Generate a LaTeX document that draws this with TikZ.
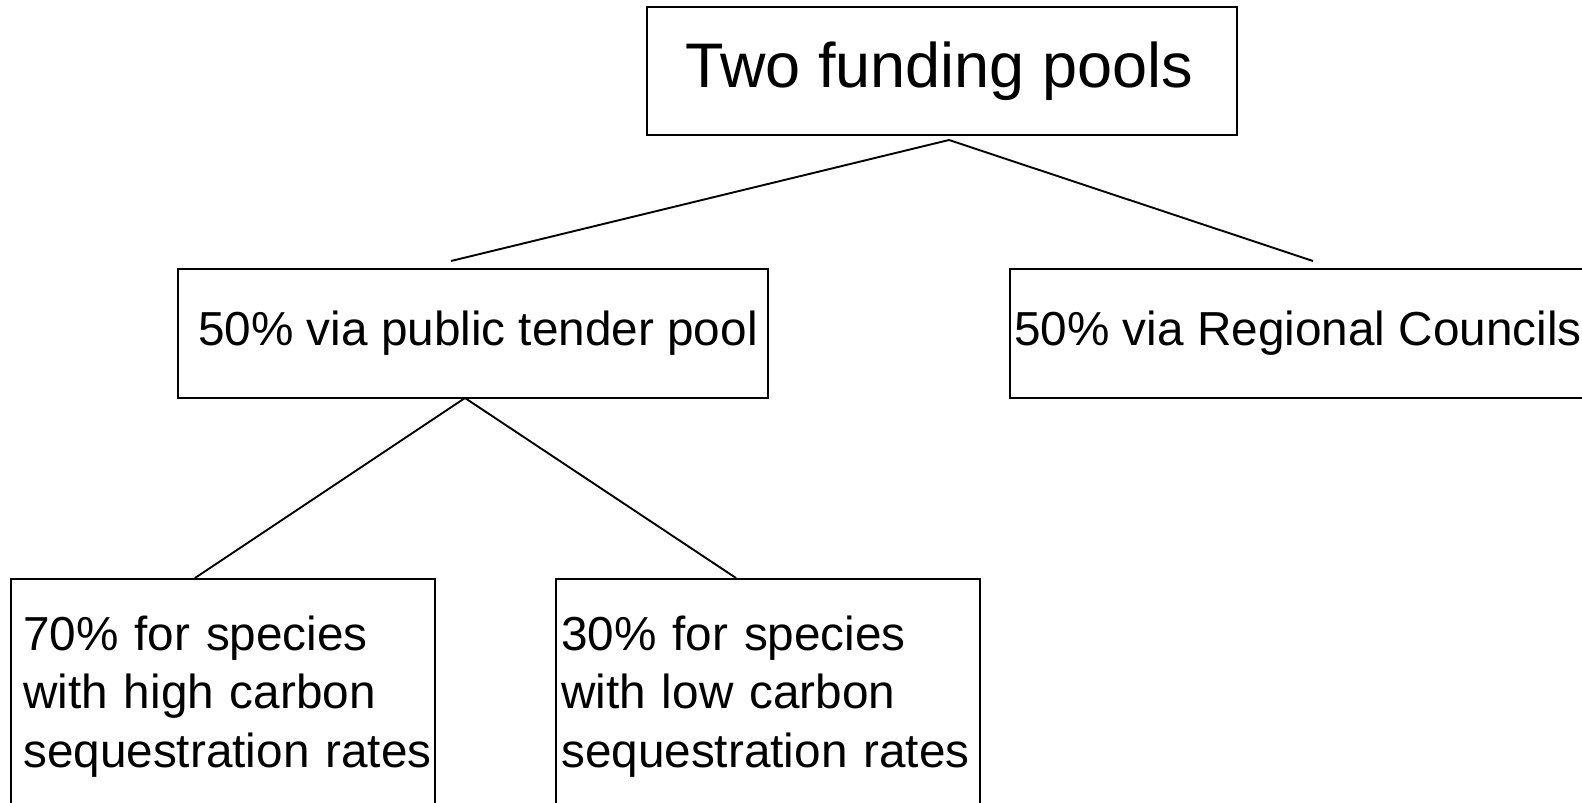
\documentclass[tikz,border=0pt]{standalone}
\usepackage{fontspec}
\setmainfont{Liberation Sans}
\begin{document}
\begin{tikzpicture}[x=1pt,y=-1pt,
  box/.style={draw, line width=2pt, inner sep=0pt, outer sep=0pt, anchor=north west},
  bigtext/.style={font=\fontsize{63}{75}\selectfont},
  midtext/.style={font=\fontsize{47.7}{57.8}\selectfont},
  leaftext/.style={anchor=base west, text width=420pt, align=left, inner sep=0pt, font=\fontsize{47.7}{58.5}\selectfont},
  link/.style={line width=1.9pt}]
\useasboundingbox (0,0) rectangle (1582,803);
\clip (0,0) rectangle (1582,803);
\fill[white] (0,0) rectangle (1582,803);
% boxes
\node[box, bigtext, minimum width=590pt, minimum height=128pt] (top) at (647,7) {\hspace*{-6pt}Two funding pools};
\node[box, midtext, minimum width=590pt, minimum height=129pt] (tender) at (178,269) {\hspace*{10pt}50\% via public tender pool};
\node[box, midtext, minimum width=576pt, minimum height=129pt] (regional) at (1010,269) {50\% via Regional Councils};
\node[box, minimum width=424pt, minimum height=260pt] (high) at (11,579) {};
\node[box, minimum width=424pt, minimum height=260pt] (low) at (556,579) {};
\node[leaftext] (hightext) at (23,650) {70\% for species\\with high carbon\\sequestration rates};
\node[leaftext] (lowtext) at (561,650) {30\% for species\\with low carbon\\sequestration rates};
% connector ends
\coordinate (ta) at (949,140);
\coordinate (tl) at (451,261);
\coordinate (tr) at (1313,261);
\coordinate (ma) at (465,398);
\coordinate (bl) at (195,578);
\coordinate (br) at (736,578);
\draw[link] (ta) -- (tl);
\draw[link] (ta) -- (tr);
\draw[link] (ma) -- (bl);
\draw[link] (ma) -- (br);
\end{tikzpicture}
\end{document}
